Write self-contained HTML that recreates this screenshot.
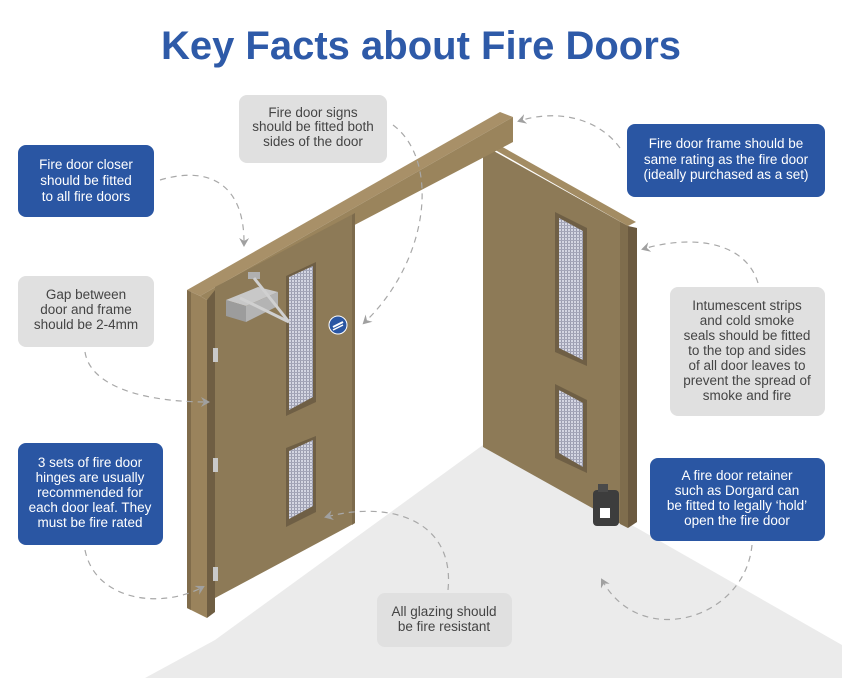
<!DOCTYPE html>
<html><head><meta charset="utf-8"><style>
body{margin:0;background:#fff;}
svg{display:block;font-family:"Liberation Sans",Arial,sans-serif;}
</style></head><body>
<svg width="842" height="678" viewBox="0 0 842 678" xmlns="http://www.w3.org/2000/svg">
<defs>
<pattern id="mesh" width="3" height="3" patternUnits="userSpaceOnUse">
<rect width="3" height="3" fill="#d4d6e2"/>
<rect width="1" height="3" fill="#9a9cae"/>
<rect width="3" height="1" fill="#a4a6b8"/>
</pattern>
<marker id="ar" markerWidth="10" markerHeight="10" refX="7" refY="5" orient="auto" markerUnits="userSpaceOnUse">
<path d="M0,0 L9,5 L0,10 L3,5 Z" fill="#a0a0a0"/>
</marker>
</defs>

<text x="421" y="59" text-anchor="middle" font-size="40" font-weight="bold" fill="#2e5aa8">Key Facts about Fire Doors</text>

<polygon points="145,678 215,640 483,445 490,448 637,528 842,645 842,678" fill="#ebebeb"/>

<polygon points="483,143 490,140 636,222 628,226" fill="#a38c63"/>
<polygon points="483,145 628,226 628,528 483,447" fill="#8d7a57"/>
<polygon points="620,222 628,226 628,528 620,524" fill="#7f6d4d"/>
<polygon points="628,226 637,228 637,522 628,528" fill="#6b5a40"/>
<polygon points="555,212 587,228 587,366 555,352" fill="#6f5f45"/>
<polygon points="559,218 583,231 583,360 559,348" fill="url(#mesh)"/>
<polygon points="555,384 587,400 587,473 555,458" fill="#6f5f45"/>
<polygon points="559,390 583,403 583,467 559,453" fill="url(#mesh)"/>
<rect x="593" y="490" width="26" height="36" rx="4" fill="#3d3d3d"/>
<rect x="598" y="484" width="10" height="8" fill="#4a4a4a"/>
<rect x="600" y="508" width="10" height="10" fill="#fff"/>

<polygon points="187,290 500,112 513,117 200,296" fill="#a89068"/>
<polygon points="200,296 513,117 513,142 215,298 207,300" fill="#9a845c"/>
<polygon points="187,290 200,296 207,300 207,618 187,608" fill="#9a835c"/>
<polygon points="187,290 191,292 191,610 187,608" fill="#806c4b"/>
<polygon points="207,300 215,290 215,612 207,618" fill="#6f5e43"/>
<polygon points="215,287 355,213 355,523 215,598" fill="#8d7a57"/>
<polygon points="352,215 355,213 355,523 352,525" fill="#7d6b4c"/>
<rect x="213" y="348" width="5" height="14" fill="#c9c9c9"/>
<rect x="213" y="458" width="5" height="14" fill="#c9c9c9"/>
<rect x="213" y="567" width="5" height="14" fill="#c9c9c9"/>
<polygon points="286,276 316,262 316,402 286,416" fill="#6f5f45"/>
<polygon points="289,277 313,266 313,397 289,410" fill="url(#mesh)"/>
<polygon points="286,448 316,436 316,512 286,527" fill="#6f5f45"/>
<polygon points="289,451 313,440 313,506 289,519" fill="url(#mesh)"/>
<polygon points="226,300 258,287 278,292 246,306" fill="#c8c8c8"/>
<polygon points="226,300 246,306 246,322 226,316" fill="#9c9c9c"/>
<polygon points="246,306 278,292 278,306 246,322" fill="#b4b4b4"/>
<rect x="248" y="272" width="12" height="7" fill="#b0b0b0"/>
<line x1="254" y1="278" x2="289" y2="322" stroke="#d0d0d0" stroke-width="3"/>
<line x1="240" y1="298" x2="289" y2="322" stroke="#d0d0d0" stroke-width="3"/>
<circle cx="338" cy="325" r="9" fill="#2a56a3" stroke="#fff" stroke-width="1"/>
<line x1="333" y1="327" x2="343" y2="322" stroke="#fff" stroke-width="2"/>
<line x1="333" y1="330" x2="343" y2="325" stroke="#fff" stroke-width="1.5"/>

<g fill="none" stroke="#a8a8a8" stroke-width="1.2" stroke-dasharray="6,5">
<path d="M160,180 C210,165 245,185 244,245" marker-end="url(#ar)"/>
<path d="M393,125 C440,160 430,260 364,323" marker-end="url(#ar)"/>
<path d="M620,148 C600,120 560,108 519,121" marker-end="url(#ar)"/>
<path d="M758,283 C745,240 690,235 643,249" marker-end="url(#ar)"/>
<path d="M85,352 C90,385 140,402 208,402" marker-end="url(#ar)"/>
<path d="M85,550 C95,600 160,610 203,587" marker-end="url(#ar)"/>
<path d="M448,590 C455,520 390,500 326,517" marker-end="url(#ar)"/>
<path d="M752,545 C745,620 640,650 602,580" marker-end="url(#ar)"/>
</g>

<g>
<rect x="239" y="95" width="148" height="68" rx="8" fill="#e0e0e0"/>
<rect x="18" y="145" width="136" height="72" rx="8" fill="#2a56a3"/>
<rect x="627" y="124" width="198" height="73" rx="8" fill="#2a56a3"/>
<rect x="18" y="276" width="136" height="71" rx="8" fill="#e0e0e0"/>
<rect x="670" y="287" width="155" height="129" rx="8" fill="#e0e0e0"/>
<rect x="18" y="443" width="145" height="102" rx="8" fill="#2a56a3"/>
<rect x="650" y="458" width="175" height="83" rx="8" fill="#2a56a3"/>
<rect x="377" y="593" width="135" height="54" rx="8" fill="#e0e0e0"/>
</g>
<g font-size="13.5" text-anchor="middle" fill="#444">
<text x="313" y="117">Fire door signs</text>
<text x="313" y="131">should be fitted both</text>
<text x="313" y="146">sides of the door</text>
<text x="86" y="299">Gap between</text>
<text x="86" y="314">door and frame</text>
<text x="86" y="329">should be 2-4mm</text>
<text x="747" y="310">Intumescent strips</text>
<text x="747" y="325">and cold smoke</text>
<text x="747" y="340">seals should be fitted</text>
<text x="747" y="355">to the top and sides</text>
<text x="747" y="370">of all door leaves to</text>
<text x="747" y="385">prevent the spread of</text>
<text x="747" y="400">smoke and fire</text>
<text x="444" y="616">All glazing should</text>
<text x="444" y="631">be fire resistant</text>
</g>
<g font-size="13.5" text-anchor="middle" fill="#fff">
<text x="86" y="169">Fire door closer</text>
<text x="86" y="185">should be fitted</text>
<text x="86" y="201">to all fire doors</text>
<text x="726" y="148">Fire door frame should be</text>
<text x="726" y="164">same rating as the fire door</text>
<text x="726" y="179">(ideally purchased as a set)</text>
<text x="90" y="467">3 sets of fire door</text>
<text x="90" y="482">hinges are usually</text>
<text x="90" y="497">recommended for</text>
<text x="90" y="512">each door leaf. They</text>
<text x="90" y="527">must be fire rated</text>
<text x="737" y="480">A fire door retainer</text>
<text x="737" y="495">such as Dorgard can</text>
<text x="737" y="510">be fitted to legally ‘hold’</text>
<text x="737" y="525">open the fire door</text>
</g>
</svg>
</body></html>
